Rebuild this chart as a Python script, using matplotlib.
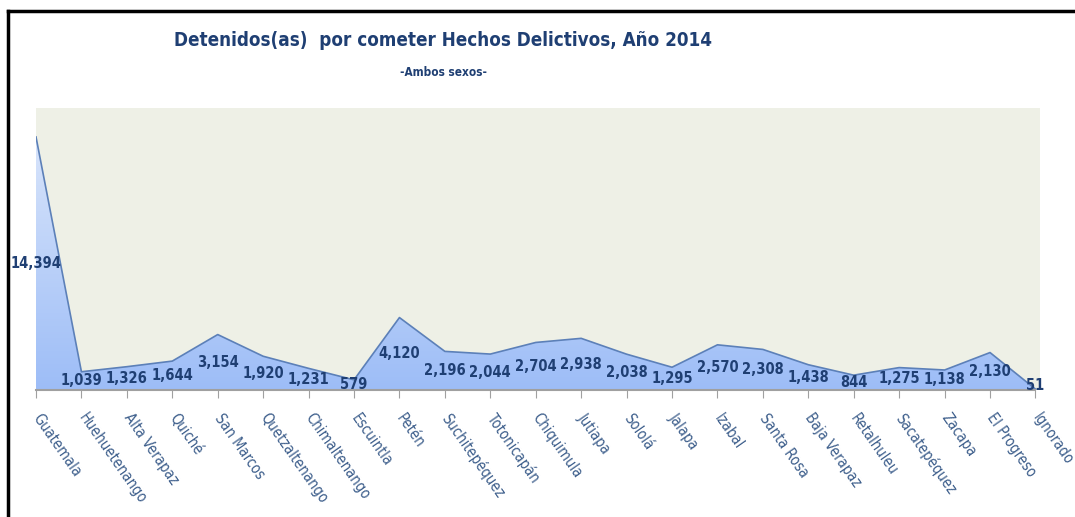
import numpy as np
import matplotlib.pyplot as plt
from matplotlib.colors import LinearSegmentedColormap

departamentos = ['Guatemala', 'Huehuetenango', 'Alta Verapaz', 'Quiché', 'San Marcos',
                 'Quetzaltenango', 'Chimaltenango', 'Escuintla', 'Petén', 'Suchitepéquez',
                 'Totonicapán', 'Chiquimula', 'Jutiapa', 'Sololá', 'Jalapa', 'Izabal',
                 'Santa Rosa', 'Baja Verapaz', 'Retalhuleu', 'Sacatepéquez', 'Zacapa',
                 'El Progreso', 'Ignorado']
detenidos = [14394, 1039, 1326, 1644, 3154, 1920, 1231, 579, 4120, 2196, 2044, 2704,
             2938, 2038, 1295, 2570, 2308, 1438, 844, 1275, 1138, 2130, 51]

plt.rcParams['font.family'] = ['DejaVu Sans']
plt.rcParams['font.stretch'] = 'condensed'

navy = '#1f3f73'
fig = plt.figure(figsize=(10.75, 5.17), dpi=100)
ax = fig.add_axes([36/1075, 1-390/517, 1004/1075, 282/517])

x = np.arange(len(detenidos))
y = np.array(detenidos)
ax.set_xlim(0, len(x) - 1 + 0.1)
ax.set_ylim(0, 16040)
ax.set_facecolor('#eef0e6')

poly = ax.fill_between(x, y, 0, color='none', lw=0)
cmap = LinearSegmentedColormap.from_list('g', ['#9dbdf7', '#dfe9fb'])
grad = np.linspace(0, 1, 256).reshape(-1, 1)
im = ax.imshow(grad, cmap=cmap, origin='lower', aspect='auto',
               extent=[0, len(x) - 1, 0, 16040], zorder=1)
im.set_clip_path(poly.get_paths()[0], transform=ax.transData)
ax.plot(x, y, color='#5c80b8', lw=1.2, zorder=2)
ax.plot([0, len(x) - 1], [0, 0], color='#a0a0a0', lw=1.5, zorder=2, clip_on=False)

for xi, yi in zip(x, y):
    ax.text(xi, max(yi / 2, 250), f'{yi:,}', ha='center', va='center', fontsize=10.5,
            fontweight='bold', color=navy, zorder=3)

for s in ['top', 'right', 'left', 'bottom']:
    ax.spines[s].set_visible(False)
ax.set_yticks([])
ax.set_xticks(x)
ax.set_xticklabels(departamentos, rotation=-55, ha='left', va='center',
                   rotation_mode='anchor', fontsize=10.5, color='#3e5f8c')
ax.tick_params(axis='x', length=6, color='#a0a0a0', pad=12)

fig.text(443/1075, 1-40/517, 'Detenidos(as)  por cometer Hechos Delictivos, Año 2014',
         ha='center', va='center', fontsize=13.5, fontweight='bold', color=navy)
fig.text(443/1075, 1-72/517, '-Ambos sexos-', ha='center', va='center',
         fontsize=8.5, fontweight='bold', color=navy)

fig.add_artist(plt.Line2D([8/1075, 1], [1-11/517, 1-11/517], color='black', lw=2.5))
fig.add_artist(plt.Line2D([8/1075, 8/1075], [0, 1-11/517], color='black', lw=2.5))

fig.savefig('out.png', dpi=100)
